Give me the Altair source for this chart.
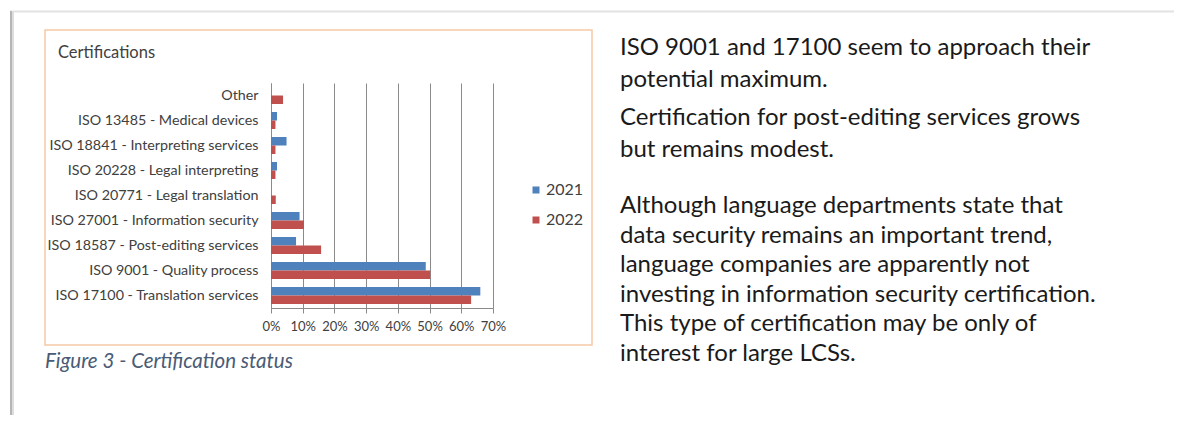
import altair as alt
import pandas as pd

# ---------------- data ----------------
categories = [
    "Other",
    "ISO 13485 - Medical devices",
    "ISO 18841 - Interpreting services",
    "ISO 20228 - Legal interpreting",
    "ISO 20771 - Legal translation",
    "ISO 27001 - Information security",
    "ISO 18587 - Post-editing services",
    "ISO 9001 - Quality process",
    "ISO 17100 - Translation services",
]
values_2021 = [0.0, 1.9, 4.9, 1.9, 0.0, 9.0, 7.9, 48.8, 66.0]
values_2022 = [3.8, 1.4, 1.4, 1.4, 1.5, 10.4, 15.8, 50.2, 63.1]
years = ["2021", "2022"]
x_ticks = [0, 10, 20, 30, 40, 50, 60, 70]

chart_title = "Certifications"
caption = "Figure 3 - Certification status"
paragraph_1 = ["ISO 9001 and 17100 seem to approach their", "potential maximum."]
paragraph_2 = ["Certification for post-editing services grows", "but remains modest."]
paragraph_3 = [
    "Although language departments state that",
    "data security remains an important trend,",
    "language companies are apparently not",
    "investing in information security certification.",
    "This type of certification may be only of",
    "interest for large LCSs.",
]

rows = []
for c, a, b in zip(categories, values_2021, values_2022):
    rows.append({"cat": c, "year": years[0], "value": a})
    rows.append({"cat": c, "year": years[1], "value": b})
df = pd.DataFrame(rows)

one = alt.InlineData(values=[{"k": 0}])

FONT = "Lato"
GRID = "#8a8a8a"
TXT = "#404040"

# ---------------- page decoration ----------------
top_shadow = alt.Chart(one).mark_rule(color="#e2e2e2", strokeWidth=2).encode(
    x=alt.value(-261), x2=alt.value(905), y=alt.value(-71.5)
)
left_shadow = alt.Chart(one).mark_rule(color="#b5b5b5", strokeWidth=2).encode(
    x=alt.value(-260), y=alt.value(-72), y2=alt.value(335)
)
left_shadow2 = alt.Chart(one).mark_rule(color="#dddddd", strokeWidth=2).encode(
    x=alt.value(-258), y=alt.value(-71), y2=alt.value(335)
)
box = alt.Chart(one).mark_rect(fillOpacity=0, stroke="#f6c9a6", strokeWidth=1.5).encode(
    x=alt.value(-226), x2=alt.value(321), y=alt.value(-53), y2=alt.value(262)
)

# ---------------- bars ----------------
bars = alt.Chart(df).mark_bar().encode(
    y=alt.Y(
        "cat:N",
        sort=categories,
        scale=alt.Scale(paddingInner=0.32, paddingOuter=0.16),
        axis=alt.Axis(
            title=None,
            ticks=False,
            labelFont=FONT,
            labelFontSize=14.3,
            labelColor=TXT,
            labelPadding=13,
            labelLimit=400,
            domainColor=GRID,
            grid=False,
        ),
    ),
    yOffset=alt.YOffset("year:N", sort=years, scale=alt.Scale(paddingInner=0, paddingOuter=0)),
    x=alt.X(
        "value:Q",
        scale=alt.Scale(domain=[0, 70], nice=False),
        axis=alt.Axis(
            title=None,
            values=x_ticks,
            labelExpr="datum.value + '%'",
            labelOverlap=False,
            labelFlush=False,
            grid=True,
            gridColor=GRID,
            domainColor=GRID,
            tickColor=GRID,
            tickSize=5,
            labelFont=FONT,
            labelFontSize=13,
            labelColor=TXT,
            labelPadding=7,
        ),
    ),
    color=alt.Color(
        "year:N",
        scale=alt.Scale(domain=years, range=["#4f81bd", "#c0504d"]),
        legend=alt.Legend(
            title=None,
            orient="none",
            legendX=257,
            legendY=99,
            symbolType="square",
            symbolSize=49,
            symbolStrokeWidth=0,
            labelFont=FONT,
            labelFontSize=16,
            labelColor=TXT,
            rowPadding=14,
            labelOffset=2,
        ),
    ),
)

# ---------------- texts ----------------
title_txt = alt.Chart(one).mark_text(
    align="left", baseline="middle", font=FONT, fontSize=16.5, color=TXT
).encode(x=alt.value(-213), y=alt.value(-30), text=alt.value(chart_title))

caption_txt = alt.Chart(one).mark_text(
    align="left", baseline="middle", font=FONT, fontSize=20.5, fontStyle="italic", color="#4a5b75"
).encode(x=alt.value(-226), y=alt.value(279), text=alt.value(caption))


def para(lines, y_first, lh):
    return alt.Chart(one).mark_text(
        align="left", baseline="middle", font=FONT, fontSize=24, color="#1a1a1a", lineHeight=lh
    ).encode(x=alt.value(349), y=alt.value(y_first), text=alt.value(lines))


p1 = para(paragraph_1, -35, 31.5)
p2 = para(paragraph_2, 35, 31.5)
p3 = para(paragraph_3, 123, 29.5)

chart = (
    alt.layer(top_shadow, left_shadow, left_shadow2, box, bars, title_txt, caption_txt, p1, p2, p3)
    .properties(
        width=222,
        height=225,
        padding={"left": 263, "top": 75, "right": 681, "bottom": 107},
        autosize=alt.AutoSizeParams(type="none"),
        background="white",
    )
    .configure_view(stroke=None)
)

chart.save("out.html", embed_options={"renderer": "svg", "actions": False})
